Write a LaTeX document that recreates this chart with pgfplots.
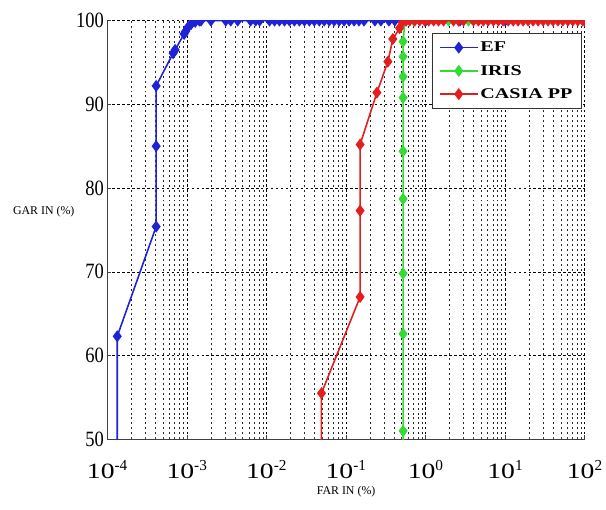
\documentclass[border=0pt]{standalone}
\usepackage{fontspec}
\setmainfont{Liberation Serif}
\usepackage{graphicx}
\usepackage{pgfplots}
\pgfplotsset{compat=1.18}
\usetikzlibrary{calc}
\definecolor{efblue}{RGB}{30,35,215}
\definecolor{irisgreen}{RGB}{50,220,50}
\definecolor{casiared}{RGB}{228,30,30}
\newcommand{\xt}[1]{\scalebox{1.27}[1]{10}\textsuperscript{#1}}
\newcommand{\yt}[1]{\scalebox{0.85}[1]{#1}}
\newcommand{\legtxt}[1]{\scalebox{1.35}[1]{#1}}

\begin{document}
\begin{tikzpicture}
\begin{axis}[
  name=ax,
  scale only axis,
  width=480bp, height=421bp,
  xmode=log, log basis x=10,
  xmin=1e-4, xmax=1e2,
  ymin=50, ymax=100,
  axis x line*=bottom, axis y line*=left,
  axis line style={black!75, line width=0.8pt},
  tick align=inside,
  major tick length=4bp, minor tick length=2.5bp,
  tick style={black!75, line width=0.6pt},
  xtick={1e-4,1e-3,1e-2,1e-1,1e0,1e1,1e2},
  minor xtick={2e-4,3e-4,4e-4,5e-4,6e-4,7e-4,8e-4,9e-4,
    2e-3,3e-3,4e-3,5e-3,6e-3,7e-3,8e-3,9e-3,
    0.02,0.03,0.04,0.05,0.06,0.07,0.08,0.09,
    0.2,0.3,0.4,0.5,0.6,0.7,0.8,0.9,
    2,3,4,5,6,7,8,9,
    20,30,40,50,60,70,80,90},
  xticklabels={\xt{-4},\xt{-3},\xt{-2},\xt{-1},\xt{0},\xt{1},\xt{2}},
  ytick={50,60,70,80,90,100},
  yticklabels={\yt{50},\yt{60},\yt{70},\yt{80},\yt{90},\yt{100}},
  xticklabel style={font=\fontsize{22}{26}\selectfont, yshift=-18bp},
  yticklabel style={font=\fontsize{22}{26}\selectfont},
  grid=both,
  major grid style={black, dash pattern=on 2.5pt off 2.5pt, line width=0.6pt},
  minor grid style={black!85, dash pattern=on 2pt off 3pt, line width=0.6pt},
  xlabel={FAR IN (\%)}, ylabel={GAR IN (\%)},
  every axis x label/.style={at={(rel axis cs:0.5,0)}, anchor=center, yshift=-53bp, font=\fontsize{12}{14}\selectfont},
  every axis y label/.style={at={(rel axis cs:0,0.544)}, anchor=center, xshift=-64bp, font=\fontsize{12}{14}\selectfont},
  clip marker paths=true,
  legend style={at={(rel axis cs:0.994,0.9715)}, anchor=north east,
    draw=black!80, line width=1.2pt, fill=white,
    font=\bfseries\fontsize{15}{17}\selectfont,
    inner xsep=7bp, inner ysep=7bp, row sep=8bp, cells={anchor=west}},
  legend image code/.code={\draw[mark repeat=2, mark phase=2] plot coordinates {(0bp,0bp) (19bp,0bp) (38bp,0bp)};},
  every axis plot/.append style={line width=1.6pt, mark=diamond*, mark size=4.8pt, mark options={solid}},
]
\addplot[color=efblue] coordinates {
  (1.33e-4,45) (1.33e-4,62.3) (4.1e-4,75.4) (4.1e-4,85.0) (4.1e-4,92.2)
  (6.7e-4,96.1) (7.1e-4,96.5) (9.2e-4,98.4) (9.6e-4,98.7) (1.03e-3,99.2)
  (1.13e-3,99.6) (1.27e-3,99.85) (1.43e-3,100) (1.5e-3,100) (2.0e-3,100)
  (3.07e-3,100) (3.55e-3,100) (4.34e-3,100) (6.3e-3,100) (7.3e-3,100)
  (8.2e-3,100) (0.0109,100) (0.0126,100) (0.0145,100) (0.0168,100)
  (0.0194,100) (0.0224,100) (0.0259,100) (0.0299,100) (0.0345,100)
  (0.0398,100) (0.046,100) (0.053,100) (0.0613,100) (0.0708,100)
  (0.0818,100) (0.0944,100) (0.109,100) (0.126,100) (0.145,100)
  (0.168,100) (0.23,100) (0.274,100) (0.345,100) (0.41,100)
  (1.0,100) (2.7,100) (10,100) (100,100)
};
\addlegendentry{\legtxt{EF}}

\addplot[color=irisgreen] coordinates {
  (0.52,45) (0.52,51.0) (0.52,62.6) (0.52,69.8) (0.52,78.7) (0.52,84.4)
  (0.52,90.8) (0.52,93.3) (0.52,95.7) (0.52,97.5) (0.55,100)
  (0.71,100) (1.94,100) (3.45,100) (100,100)
};
\addlegendentry{\legtxt{IRIS}}

\addplot[color=casiared] coordinates {
  (0.049,45) (0.049,55.5) (0.15,67.0) (0.15,77.3) (0.15,85.2)
  (0.244,91.4) (0.335,95.1) (0.387,97.8) (0.47,99.1) (0.51,99.8)
  (0.57,100) (0.63,100) (0.73,100) (0.84,100) (0.97,100)
  (1.09,100) (1.26,100) (1.45,100) (1.68,100) (2.24,100)
  (2.59,100) (2.99,100) (3.98,100) (4.6,100) (5.3,100)
  (6.1,100) (7.1,100) (8.2,100) (9.4,100) (10.9,100)
  (12.6,100) (14.5,100) (16.8,100) (19.4,100) (22.4,100)
  (25.9,100) (29.9,100) (34.5,100) (39.8,100) (46,100)
  (53,100) (61.3,100) (70.8,100) (81.8,100) (94.4,100) (100,100)
};
\addlegendentry{\legtxt{CASIA PP}}
\end{axis}
\path ($(ax.south west)+(-108bp,-71bp)$) rectangle ($(ax.north east)+(18bp,20.7bp)$);
\end{tikzpicture}
\end{document}
